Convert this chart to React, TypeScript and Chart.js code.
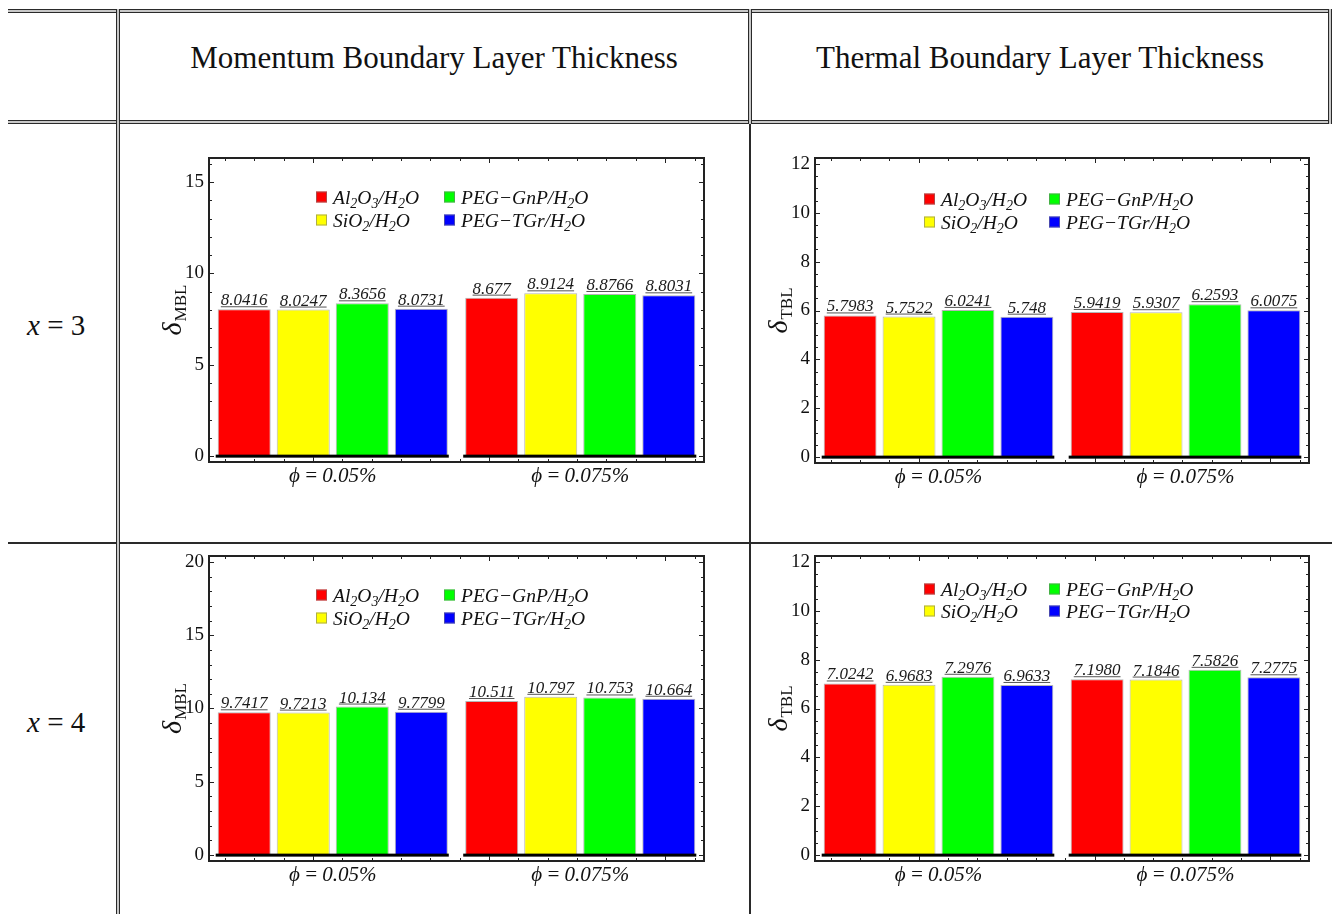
import React, { useEffect, useRef } from "react";
import { Chart, registerables } from "chart.js";

Chart.register(...registerables);

const SERIF = "'Liberation Serif', 'Times New Roman', Times, serif";

// Group (category) labels and series shared by all four panels
const groupLabels = ["ϕ\u2009=\u20090.05%", "ϕ\u2009=\u20090.075%"];
const seriesNames = ["Al_2O_3/H_2O", "SiO_2/H_2O", "PEG−GnP/H_2O", "PEG−TGr/H_2O"];
const seriesColors = ["#ff0000", "#ffff00", "#00ff00", "#0000ff"];

// Momentum boundary layer thickness, x = 3  (ϕ = 0.05%, ϕ = 0.075%)
const mblX3Al2O3 = ["8.0416", "8.677"];
const mblX3SiO2 = ["8.0247", "8.9124"];
const mblX3GnP = ["8.3656", "8.8766"];
const mblX3TGr = ["8.0731", "8.8031"];
const mblX3Ticks = [0, 5, 10, 15];
const mblX3Range = [0, 16];

// Thermal boundary layer thickness, x = 3
const tblX3Al2O3 = ["5.7983", "5.9419"];
const tblX3SiO2 = ["5.7522", "5.9307"];
const tblX3GnP = ["6.0241", "6.2593"];
const tblX3TGr = ["5.748", "6.0075"];
const tblX3Ticks = [0, 2, 4, 6, 8, 10, 12];
const tblX3Range = [0, 12];

// Momentum boundary layer thickness, x = 4
const mblX4Al2O3 = ["9.7417", "10.511"];
const mblX4SiO2 = ["9.7213", "10.797"];
const mblX4GnP = ["10.134", "10.753"];
const mblX4TGr = ["9.7799", "10.664"];
const mblX4Ticks = [0, 5, 10, 15, 20];
const mblX4Range = [0, 20];

// Thermal boundary layer thickness, x = 4
const tblX4Al2O3 = ["7.0242", "7.1980"];
const tblX4SiO2 = ["6.9683", "7.1846"];
const tblX4GnP = ["7.2976", "7.5826"];
const tblX4TGr = ["6.9633", "7.2775"];
const tblX4Ticks = [0, 2, 4, 6, 8, 10, 12];
const tblX4Range = [0, 12];

type PanelCfg = {
  left: number;
  top: number;
  width: number;
  height: number;
  padTop: number;
  padRight: number;
  yAxisWidth: number;
  xAxisHeight: number;
  range: number[];
  ticks: number[];
  minorStep: number;
  series: string[][];
  yMain: string;
  ySub: string;
  legendCols: number[];
  legendRows: number[];
};

const panels: PanelCfg[] = [
  {
    left: 150, top: 140, width: 570, height: 360,
    padTop: 18, padRight: 16, yAxisWidth: 59, xAxisHeight: 38,
    range: mblX3Range, ticks: mblX3Ticks, minorStep: 1,
    series: [mblX3Al2O3, mblX3SiO2, mblX3GnP, mblX3TGr],
    yMain: "δ", ySub: "MBL",
    legendCols: [107, 235], legendRows: [39, 62],
  },
  {
    left: 760, top: 140, width: 570, height: 360,
    padTop: 18, padRight: 21, yAxisWidth: 55, xAxisHeight: 37,
    range: tblX3Range, ticks: tblX3Ticks, minorStep: 0.5,
    series: [tblX3Al2O3, tblX3SiO2, tblX3GnP, tblX3TGr],
    yMain: "δ", ySub: "TBL",
    legendCols: [109, 234], legendRows: [41, 64],
  },
  {
    left: 150, top: 545, width: 570, height: 360,
    padTop: 11, padRight: 16, yAxisWidth: 59, xAxisHeight: 44,
    range: mblX4Range, ticks: mblX4Ticks, minorStep: 1,
    series: [mblX4Al2O3, mblX4SiO2, mblX4GnP, mblX4TGr],
    yMain: "δ", ySub: "MBL",
    legendCols: [107, 235], legendRows: [39, 62],
  },
  {
    left: 760, top: 545, width: 570, height: 360,
    padTop: 11, padRight: 21, yAxisWidth: 55, xAxisHeight: 44,
    range: tblX4Range, ticks: tblX4Ticks, minorStep: 0.5,
    series: [tblX4Al2O3, tblX4SiO2, tblX4GnP, tblX4TGr],
    yMain: "δ", ySub: "TBL",
    legendCols: [109, 234], legendRows: [33, 55],
  },
];

// Writes text where "_d" marks a subscript digit; returns the end x.
function drawRich(ctx: CanvasRenderingContext2D, text: string, x: number, y: number, size: number) {
  const parts = text.split(/(_\d)/);
  let cx = x;
  for (const p of parts) {
    if (!p) continue;
    if (p[0] === "_") {
      const s = p.slice(1);
      ctx.font = `italic ${Math.round(size * 0.7)}px ${SERIF}`;
      ctx.fillText(s, cx, y + size * 0.24);
      cx += ctx.measureText(s).width;
    } else {
      ctx.font = `italic ${size}px ${SERIF}`;
      ctx.fillText(p, cx, y);
      cx += ctx.measureText(p).width;
    }
  }
  return cx;
}

const panelDecor = {
  id: "panelDecor",
  afterDatasetsDraw(chart: any) {
    const { ctx } = chart;
    const yScale = chart.scales.y;
    const y0 = yScale.getPixelForValue(0);
    const n = chart.data.datasets.length;
    const first = chart.getDatasetMeta(0);
    const last = chart.getDatasetMeta(n - 1);
    ctx.save();
    // heavy zero line under each group of bars
    ctx.fillStyle = "#000";
    first.data.forEach((b0: any, i: number) => {
      const b1: any = last.data[i];
      const x0 = b0.x - b0.width / 2 - 2;
      const x1 = b1.x + b1.width / 2 + 1;
      ctx.fillRect(x0, y0 - 1.5, x1 - x0, 3);
    });
    // value labels above the bars
    ctx.font = `italic 17px ${SERIF}`;
    ctx.textAlign = "center";
    ctx.textBaseline = "alphabetic";
    chart.data.datasets.forEach((ds: any, di: number) => {
      const meta = chart.getDatasetMeta(di);
      meta.data.forEach((bar: any, i: number) => {
        const txt = ds.valueLabels[i];
        const ty = bar.y - 4;
        ctx.fillStyle = "#1a1a1a";
        ctx.fillText(txt, bar.x, ty);
        const w = ctx.measureText(txt).width;
        ctx.fillStyle = "#555";
        ctx.fillRect(bar.x - w / 2, ty + 1, w, 1);
      });
    });
    ctx.restore();
  },
  afterDraw(chart: any, _args: any, opts: any) {
    const { ctx, chartArea: a } = chart;
    const yScale = chart.scales.y;
    ctx.save();
    // frame
    ctx.strokeStyle = "#222";
    ctx.lineWidth = 2;
    ctx.strokeRect(a.left, a.top, a.right - a.left, a.bottom - a.top);

    // inward frame ticks on left/right
    ctx.lineWidth = 1;
    const [lo, hi] = opts.range;
    for (let v = lo; v <= hi + 1e-9; v += opts.minorStep) {
      const py = Math.round(yScale.getPixelForValue(v)) + 0.5;
      const major = opts.ticks.some((t: number) => Math.abs(t - v) < 1e-6);
      const len = major ? 5 : 3;
      ctx.beginPath();
      ctx.moveTo(a.left, py);
      ctx.lineTo(a.left + len, py);
      ctx.moveTo(a.right, py);
      ctx.lineTo(a.right - len, py);
      ctx.stroke();
    }
    // inward frame ticks on top/bottom
    const w = a.right - a.left;
    const step = w * 0.0593;
    let start = a.left + w * 0.21;
    let k = 0;
    while (start - step > a.left + 2) {
      start -= step;
      k++;
    }
    for (let i = 0, x = start; x < a.right - 2; i++, x += step) {
      const major = (((i - k) % 6) + 6) % 6 === 0;
      const len = major ? 5 : 3;
      const px = Math.round(x) + 0.5;
      ctx.beginPath();
      ctx.moveTo(px, a.top);
      ctx.lineTo(px, a.top + len);
      ctx.moveTo(px, a.bottom);
      ctx.lineTo(px, a.bottom - len);
      ctx.stroke();
    }

    // legend, two columns
    ctx.textAlign = "left";
    ctx.textBaseline = "alphabetic";
    chart.data.datasets.forEach((ds: any, i: number) => {
      const col = Math.floor(i / 2);
      const row = i % 2;
      const sx = a.left + opts.legendCols[col];
      const cy = a.top + opts.legendRows[row];
      ctx.fillStyle = ds.backgroundColor;
      ctx.fillRect(sx, cy - 5.5, 11, 11);
      ctx.strokeStyle = "rgba(120,120,120,0.6)";
      ctx.lineWidth = 1;
      ctx.strokeRect(sx + 0.5, cy - 5, 10, 10);
      ctx.fillStyle = "#111";
      drawRich(ctx, ds.label, sx + 17, cy + 6.5, 19.5);
    });

    // rotated y-axis title with subscript
    ctx.translate(a.left - 36, (a.top + a.bottom) / 2);
    ctx.rotate(-Math.PI / 2);
    ctx.font = `italic 28px ${SERIF}`;
    const w1 = ctx.measureText(opts.yMain).width;
    ctx.font = `17px ${SERIF}`;
    const w2 = ctx.measureText(opts.ySub).width;
    const x0 = -(w1 + w2 + 1) / 2;
    ctx.fillStyle = "#111";
    ctx.font = `italic 28px ${SERIF}`;
    ctx.fillText(opts.yMain, x0, 8);
    ctx.font = `17px ${SERIF}`;
    ctx.fillText(opts.ySub, x0 + w1 + 1, 13);
    ctx.restore();
  },
};

function Panel({ cfg }: { cfg: PanelCfg }) {
  const ref = useRef<HTMLCanvasElement>(null);
  useEffect(() => {
    const [lo, hi] = cfg.range;
    const pad = (hi - lo) * 0.02;
    const chart = new Chart(ref.current as HTMLCanvasElement, {
      type: "bar",
      data: {
        labels: groupLabels,
        datasets: cfg.series.map((vals, i) => ({
          label: seriesNames[i],
          data: vals.map(Number),
          valueLabels: vals,
          backgroundColor: seriesColors[i],
          borderColor: "rgba(150,150,150,0.7)",
          borderWidth: 1,
          categoryPercentage: 0.954,
          barPercentage: 0.898,
        })) as any,
      },
      options: {
        responsive: false,
        animation: false,
        events: [],
        layout: { padding: { top: cfg.padTop, right: cfg.padRight, left: 0, bottom: 0 } },
        plugins: {
          legend: { display: false },
          tooltip: { enabled: false },
          panelDecor: {
            range: [lo, hi],
            ticks: cfg.ticks,
            minorStep: cfg.minorStep,
            yMain: cfg.yMain,
            ySub: cfg.ySub,
            legendCols: cfg.legendCols,
            legendRows: cfg.legendRows,
          },
        } as any,
        scales: {
          x: {
            type: "category",
            grid: { display: false, drawTicks: false },
            border: { display: false },
            ticks: {
              color: "#111",
              padding: 2,
              maxRotation: 0,
              autoSkip: false,
              font: { family: SERIF, size: 21, style: "italic" },
            },
            afterFit: (s: any) => {
              s.height = cfg.xAxisHeight;
              s.paddingLeft = 0;
              s.paddingRight = 0;
            },
          },
          y: {
            type: "linear",
            min: lo - pad,
            max: hi + pad,
            grid: { display: false, drawTicks: false },
            border: { display: false },
            ticks: {
              color: "#111",
              padding: 5,
              font: { family: SERIF, size: 19 },
            },
            afterBuildTicks: (s: any) => {
              s.ticks = cfg.ticks.map((v) => ({ value: v }));
            },
            afterFit: (s: any) => {
              s.width = cfg.yAxisWidth;
              s.paddingTop = 0;
              s.paddingBottom = 0;
            },
          },
        } as any,
      },
      plugins: [panelDecor as any],
    });
    return () => chart.destroy();
  }, [cfg]);
  return (
    <canvas
      ref={ref}
      width={cfg.width}
      height={cfg.height}
      style={{ position: "absolute", left: cfg.left, top: cfg.top, width: cfg.width, height: cfg.height }}
    />
  );
}

function HDouble({ top, left, width }: { top: number; left: number; width: number }) {
  return (
    <div
      style={{
        position: "absolute",
        left,
        top,
        width,
        height: 4,
        boxSizing: "border-box",
        borderTop: "1px solid #2a2a2a",
        borderBottom: "1px solid #2a2a2a",
        background: "#c8c8c8",
      }}
    />
  );
}

function VDouble({ top, left, height }: { top: number; left: number; height: number }) {
  return (
    <div
      style={{
        position: "absolute",
        left,
        top,
        width: 4,
        height,
        boxSizing: "border-box",
        borderLeft: "1px solid #2a2a2a",
        borderRight: "1px solid #2a2a2a",
        background: "#c8c8c8",
      }}
    />
  );
}

function Rule({ left, top, width, height }: { left: number; top: number; width: number; height: number }) {
  return <div style={{ position: "absolute", left, top, width, height, background: "#2a2a2a" }} />;
}

const headerStyle: React.CSSProperties = {
  position: "absolute",
  top: 38,
  height: 40,
  lineHeight: "40px",
  fontFamily: SERIF,
  fontSize: 31,
  color: "#111",
  textAlign: "center",
  whiteSpace: "nowrap",
};

const rowLabelStyle: React.CSSProperties = {
  position: "absolute",
  left: 27,
  height: 40,
  lineHeight: "40px",
  fontFamily: SERIF,
  fontSize: 29,
  color: "#111",
  whiteSpace: "nowrap",
};

export default function App() {
  return (
    <div
      style={{
        position: "fixed",
        left: 0,
        top: 0,
        width: 1332,
        height: 914,
        background: "#fff",
        overflow: "hidden",
      }}
    >
      {/* table rules */}
      <HDouble left={8} top={9} width={1324} />
      <HDouble left={8} top={120} width={1324} />
      <Rule left={8} top={542} width={1324} height={2} />
      <VDouble left={116} top={9} height={905} />
      <VDouble left={748} top={9} height={115} />
      <Rule left={749} top={124} width={2} height={790} />
      <VDouble left={1328} top={9} height={115} />

      {/* column headings */}
      <div style={{ ...headerStyle, left: 120, width: 628 }}>Momentum Boundary Layer Thickness</div>
      <div style={{ ...headerStyle, left: 752, width: 576 }}>Thermal Boundary Layer Thickness</div>

      {/* row headings */}
      <div style={{ ...rowLabelStyle, top: 305 }}>
        <span style={{ fontStyle: "italic" }}>x</span> = 3
      </div>
      <div style={{ ...rowLabelStyle, top: 702 }}>
        <span style={{ fontStyle: "italic" }}>x</span> = 4
      </div>

      {panels.map((p, i) => (
        <Panel key={i} cfg={p} />
      ))}
    </div>
  );
}
